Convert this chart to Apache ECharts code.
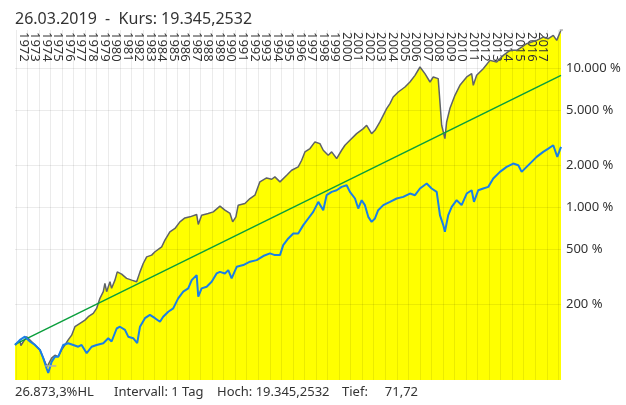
<!DOCTYPE html>
<html>
<head>
<meta charset="utf-8">
<script src="https://cdn.jsdelivr.net/npm/echarts@6/dist/echarts.min.js"></script>
<style>
  html, body { margin: 0; padding: 0; background: #fff; }
  #chart { width: 626px; height: 405px; }
</style>
</head>
<body>
<div id="chart"></div>
<script>
// Kursverlauf in % (Start = ca. 100 %)
const kursJahre = [1971.92, 1972.35, 1972.43, 1972.93, 1973.50, 1974.08, 1974.37, 1974.70, 1975.09, 1975.38,
  1975.67, 1975.96, 1976.25, 1976.53, 1976.83, 1977.11, 1977.55, 1977.98, 1978.27, 1978.70,
  1978.99, 1979.28, 1979.57, 1979.71, 1979.86, 1980.15, 1980.29, 1980.58, 1980.78, 1981.16,
  1981.59, 1982.03, 1982.46, 1982.75, 1983.03, 1983.33, 1983.76, 1984.05, 1984.63, 1984.91,
  1985.34, 1985.78, 1986.21, 1986.64, 1987.08, 1987.66, 1987.80, 1988.09, 1988.66, 1989.10,
  1989.68, 1990.11, 1990.55, 1990.78, 1991.06, 1991.26, 1991.84, 1992.28, 1992.71, 1993.14,
  1993.72, 1994.16, 1994.44, 1994.88, 1995.46, 1995.89, 1996.46, 1996.76, 1997.04, 1997.48,
  1997.91, 1998.34, 1998.63, 1999.06, 1999.36, 1999.79, 2000.22, 2000.51, 2000.94, 2001.52,
  2002.10, 2002.39, 2002.82, 2003.11, 2003.54, 2004.12, 2004.41, 2004.69, 2005.13, 2005.71,
  2006.14, 2006.58, 2007.01, 2007.44, 2007.88, 2008.16, 2008.59, 2008.74, 2008.89, 2009.03,
  2009.17, 2009.32, 2009.61, 2010.04, 2010.47, 2011.06, 2011.49, 2011.63, 2011.92, 2012.49,
  2013.07, 2013.66, 2014.23, 2014.81, 2015.39, 2015.82, 2016.25, 2016.69, 2017.12, 2017.69,
  2018.13, 2018.56, 2018.86, 2019.23];
const kursWerte = [102, 109, 101, 117, 105, 94, 82, 71, 82, 86,
  84, 94, 102, 111, 120, 138, 146, 154, 163, 172,
  187, 221, 247, 283, 247, 291, 261, 299, 343, 330,
  308, 299, 291, 343, 394, 440, 453, 479, 520, 581,
  667, 705, 787, 840, 855, 889, 753, 879, 904, 929,
  1021, 955, 904, 787, 855, 1038, 1067, 1159, 1225, 1528,
  1631, 1596, 1660, 1528, 1706, 1852, 1959, 2188, 2512, 2655,
  2965, 2884, 2582, 2377, 2512, 2249, 2582, 2805, 3048, 3404,
  3698, 3908, 3404, 3597, 4130, 5152, 5598, 6252, 6792, 7379,
  8017, 8953, 10280, 9204, 8017, 8710, 8472, 5754, 3908, 3499,
  3133, 4130, 5180, 6427, 7586, 8710, 9204, 7586, 8953, 10000,
  11480, 11170, 12470, 13550, 13550, 14320, 15140, 15560, 16000, 16900,
  16440, 17380, 16000, 19000];

// Vergleichswert in %
const vergleichJahre = [1971.92, 1972.35, 1972.78, 1973.21, 1973.65, 1974.08, 1974.37, 1974.66, 1974.80, 1975.09,
  1975.38, 1975.67, 1976.10, 1976.53, 1976.97, 1977.40, 1977.69, 1978.13, 1978.56, 1978.99,
  1979.57, 1980.00, 1980.29, 1980.73, 1981.01, 1981.45, 1981.73, 1982.16, 1982.51, 1982.75,
  1983.18, 1983.61, 1984.05, 1984.48, 1984.76, 1985.20, 1985.63, 1986.06, 1986.50, 1986.93,
  1987.23, 1987.66, 1987.80, 1988.09, 1988.53, 1988.96, 1989.39, 1989.68, 1990.11, 1990.40,
  1990.69, 1990.83, 1991.13, 1991.70, 1992.28, 1992.86, 1993.43, 1994.01, 1994.44, 1994.88,
  1995.16, 1995.60, 1996.03, 1996.46, 1996.90, 1997.33, 1997.76, 1998.20, 1998.63, 1998.92,
  1999.36, 1999.79, 2000.22, 2000.66, 2000.94, 2001.38, 2001.66, 2001.96, 2002.24, 2002.53,
  2002.82, 2003.11, 2003.39, 2003.83, 2004.41, 2004.99, 2005.56, 2006.14, 2006.58, 2007.01,
  2007.59, 2008.02, 2008.46, 2008.74, 2009.03, 2009.17, 2009.46, 2009.76, 2010.19, 2010.62,
  2011.06, 2011.49, 2011.69, 2012.06, 2012.49, 2012.93, 2013.36, 2013.94, 2014.52, 2015.09,
  2015.53, 2015.82, 2016.25, 2016.69, 2017.12, 2017.69, 2018.13, 2018.56, 2018.91, 2019.23];
const vergleichWerte = [102, 111, 117, 108, 102, 94, 82, 69, 64, 77,
  84, 84, 102, 105, 102, 99, 102, 89, 99, 102,
  105, 114, 108, 134, 138, 131, 117, 114, 105, 138,
  159, 168, 159, 150, 163, 177, 187, 221, 247, 261,
  299, 325, 227, 261, 268, 291, 334, 343, 334, 353,
  308, 299, 373, 384, 406, 417, 446, 466, 453, 453,
  535, 597, 649, 649, 745, 832, 929, 1096, 955, 1225,
  1294, 1330, 1406, 1445, 1294, 1159, 982, 1127, 1038, 855,
  787, 832, 955, 1038, 1096, 1159, 1191, 1259, 1225, 1368,
  1486, 1368, 1294, 879, 745, 667, 879, 1009, 1127, 1038,
  1259, 1330, 1096, 1330, 1368, 1406, 1614, 1803, 1959, 2070,
  2014, 1803, 1959, 2128, 2312, 2512, 2655, 2805, 2312, 2729];

// Trendlinie
const trendJahre = [1971.92, 2019.23];
const trendWerte = [103, 8950];

// Hoch / Tief Markierungen
const tiefJahre = [1974.55, 1975.5];
const tiefWert = 72;
const hochJahre = [2019.12, 2019.65];
const hochWert = 19000;

const X_MIN = 1971.92, X_MAX = 2019.23;
const yTicks = [200, 500, 1000, 2000, 5000, 10000];
const jahre = [];
for (let j = 1972; j <= 2019; j++) jahre.push(j);
// leere Platzhalter an den Rändern, damit keine Jahreszahl weggelassen wird
const jahresLabels = [X_MIN].concat(jahre.filter(j => j <= 2017).map(j => j + 0.65), [X_MAX]);

const pair = (xs, ys) => xs.map((x, i) => [x, ys[i]]);
const fmtDE = v => String(v).replace(/\B(?=(\d{3})+(?!\d))/g, '.');

const FONT = '"Noto Sans", sans-serif';
const chart = echarts.init(document.getElementById('chart'));
chart.setOption({
  animation: false,
  title: {
    text: '26.03.2019  -  Kurs: 19.345,2532',
    left: 10,
    top: 6,
    textStyle: { fontFamily: FONT, fontSize: 16, fontWeight: 'normal', color: '#333' }
  },
  grid: { left: 15, right: 65, top: 30, bottom: 25 },
  xAxis: {
    type: 'value',
    position: 'top',
    min: X_MIN,
    max: X_MAX,
    axisLine: { show: false },
    axisTick: { show: false, customValues: jahre },
    splitLine: { show: true, lineStyle: { color: 'rgba(0,0,0,0.08)', width: 1 } },
    axisLabel: {
      inside: true,
      rotate: 90,
      margin: 2,
      showMinLabel: false,
      showMaxLabel: false,
      hideOverlap: false,
      customValues: jahresLabels,
      formatter: v => (v < 1972 || v > 2018 ? '' : String(Math.floor(v))),
      fontFamily: FONT,
      fontSize: 13,
      color: '#333'
    }
  },
  yAxis: {
    type: 'log',
    logBase: 10,
    position: 'right',
    min: 57,
    max: 19000,
    axisLine: { show: false },
    axisTick: { show: false, customValues: yTicks },
    splitLine: { show: true, lineStyle: { color: 'rgba(0,0,0,0.08)', width: 1 } },
    axisLabel: {
      customValues: yTicks,
      margin: 5,
      formatter: v => fmtDE(Math.round(v)) + ' %',
      fontFamily: FONT,
      fontSize: 13,
      color: '#333'
    }
  },
  graphic: [
    { type: 'text', left: 15, top: 386, style: { text: '26.873,3%HL', font: '13px ' + FONT, fill: '#333' } },
    { type: 'text', left: 114, top: 386, style: { text: 'Intervall: 1 Tag', font: '13px ' + FONT, fill: '#333' } },
    { type: 'text', left: 217, top: 386, style: { text: 'Hoch: 19.345,2532', font: '13px ' + FONT, fill: '#333' } },
    { type: 'text', left: 342, top: 386, style: { text: 'Tief:     71,72', font: '13px ' + FONT, fill: '#333' } }
  ],
  series: [
    {
      name: 'Fläche',
      type: 'line',
      z: -1,
      data: pair(kursJahre, kursWerte),
      showSymbol: false,
      lineStyle: { width: 0 },
      areaStyle: { color: '#ffff00', opacity: 1, origin: 'start' }
    },
    {
      name: 'Kurs',
      type: 'line',
      z: 4,
      data: pair(kursJahre, kursWerte),
      showSymbol: false,
      lineStyle: { color: '#5f6368', width: 1.5 }
    },
    {
      name: 'Trend',
      type: 'line',
      z: 4,
      data: pair(trendJahre, trendWerte),
      showSymbol: false,
      lineStyle: { color: '#0a9e3c', width: 1.5 }
    },
    {
      name: 'Vergleich',
      type: 'line',
      z: 5,
      data: pair(vergleichJahre, vergleichWerte),
      showSymbol: false,
      lineStyle: { color: '#1a7fe6', width: 2 }
    },
    {
      name: 'Tief',
      type: 'line',
      z: 6,
      clip: false,
      data: tiefJahre.map(j => [j, tiefWert]),
      showSymbol: false,
      lineStyle: { color: '#b0b0b0', width: 1.5 }
    },
    {
      name: 'Hoch',
      type: 'line',
      z: 6,
      clip: false,
      data: hochJahre.map(j => [j, hochWert]),
      showSymbol: false,
      lineStyle: { color: '#b0b0b0', width: 1.5 }
    }
  ]
});
</script>
</body>
</html>
